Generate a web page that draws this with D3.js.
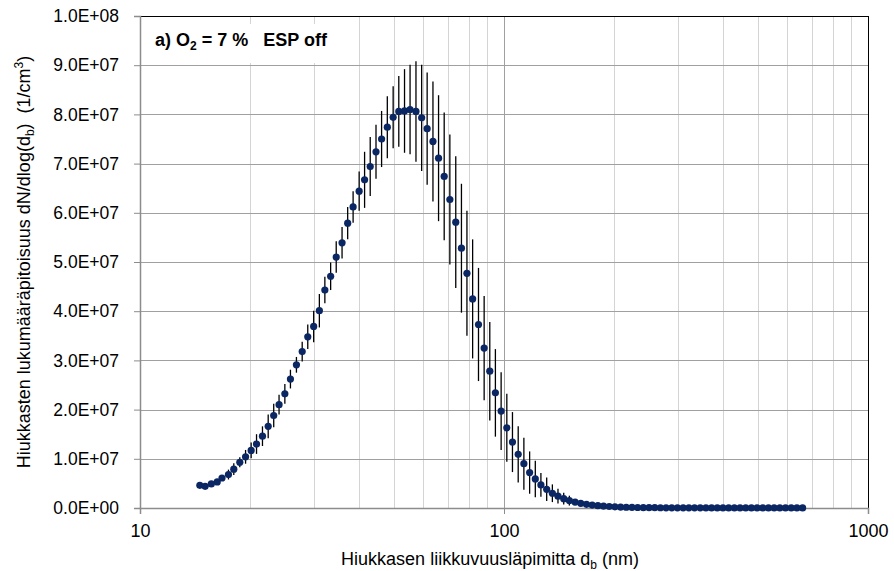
<!DOCTYPE html>
<html><head><meta charset="utf-8">
<script src="https://cdn.jsdelivr.net/npm/d3@7"></script>
<style>
body{margin:0;background:#fff}
svg text{font-family:"Liberation Sans",Arial,sans-serif;fill:#000}
</style>
</head><body>
<svg id="chart" width="894" height="571"></svg>
<script>
// ---- data ----
const diameters = [14.6,15.1,15.7,16.3,16.8,17.5,18.1,18.8,19.5,20.2,20.9,21.7,22.5,23.3,24.1,25.0,25.9,26.9,27.9,28.9,
30.0,31.1,32.2,33.4,34.6,35.9,37.2,38.5,40.0,41.4,42.9,44.5,46.1,47.8,49.6,51.4,53.3,55.2,57.3,59.4,
61.5,63.8,66.1,68.5,71.0,73.7,76.4,79.1,82.0,85.1,88.2,91.4,94.7,98.2,101.8,105.5,109.4,113.4,117.6,121.9,
126.3,131.0,135.8,140.7,145.9,151.2,156.8,162.5,168.5,174.7,181.1,187.7,194.6,201.7,209.1,216.7,224.7,232.9,241.4,250.3,
259.5,269.0,278.8,289.0,299.6,310.6,322.0,333.8,346.0,358.7,371.8,385.4,399.5,414.2,429.4,445.1,461.4,478.3,495.8,514.0,
532.8,552.3,572.5,593.5,615.3,637.8,661.2];

const concentration = [4.6e6,4.4e6,4.9e6,5.3e6,6.1e6,6.8e6,7.9e6,9.3e6,10.4e6,11.7e6,
13.0e6,14.6e6,16.6e6,18.8e6,21.0e6,23.2e6,26.2e6,29.1e6,31.8e6,34.8e6,
36.9e6,40.1e6,44.3e6,47.1e6,51.0e6,53.9e6,57.9e6,61.2e6,64.4e6,66.7e6,
69.4e6,72.4e6,75.0e6,77.4e6,79.4e6,80.6e6,80.7e6,81.0e6,80.6e6,79.3e6,
77.1e6,74.5e6,71.1e6,67.4e6,62.7e6,58.1e6,52.8e6,47.7e6,42.5e6,37.3e6,
32.5e6,27.8e6,23.4e6,19.7e6,16.3e6,13.4e6,10.9e6,9.0e6,7.2e6,5.9e6,
4.7e6,3.8e6,3.0e6,2.4e6,1.9e6,1.5e6,1.2e6,0.95e6,0.75e6,0.6e6,
0.48e6,0.38e6,0.30e6,0.24e6,0.19e6,0.15e6,0.12e6,0.10e6,0.08e6,0.07e6,
0.06e6,0.05e6,0.045e6,0.04e6,0.035e6,0.03e6,0.028e6,0.025e6,0.022e6,0.02e6,
0.018e6,0.016e6,0.015e6,0.014e6,0.013e6,0.012e6,0.011e6,0.010e6,0.010e6,0.009e6,
0.009e6,0.008e6,0.008e6,0.007e6,0.007e6,0.006e6,0.006e6];

const errorHalf = [0.2e6,0.2e6,0.3e6,0.4e6,0.6e6,1.0e6,1.2e6,1.0e6,1.4e6,1.6e6,
2.0e6,2.0e6,2.4e6,2.4e6,2.0e6,2.0e6,1.9e6,1.6e6,2.0e6,2.5e6,
3.2e6,3.4e6,2.7e6,2.8e6,3.2e6,3.2e6,3.3e6,3.2e6,4.0e6,5.7e6,
6.0e6,5.5e6,5.7e6,6.3e6,6.3e6,7.2e6,8.5e6,9.1e6,10.2e6,10.8e6,
11.4e6,12.2e6,12.8e6,13.0e6,13.2e6,13.4e6,13.1e6,12.7e6,12.1e6,11.5e6,
10.6e6,10.0e6,8.9e6,7.9e6,6.9e6,6.1e6,5.7e6,5.3e6,4.3e6,3.7e6,
2.4e6,2.4e6,1.8e6,1.5e6,1.2e6,1.0e6,0.6e6,0.5e6,0.4e6,0.3e6,
0.2e6,0.15e6,0.12e6,0.1e6,0.08e6,0.06e6,0.05e6,0.04e6,0.03e6,0.03e6,
0.02e6,0.02e6,0.02e6,0.01e6,0.01e6,0.01e6,0.01e6,0.01e6,0.01e6,0.01e6,
0,0,0,0,0,0,0,0,0,0,0,0,0,0,0,0,0];

const xTickValues = [10, 100, 1000];
const xMinorGrid = [20,30,40,50,60,70,80,90,200,300,400,500,600,700,800,900];
const yTickValues = [0,1e7,2e7,3e7,4e7,5e7,6e7,7e7,8e7,9e7,1e8];

// ---- chart ----
const svg = d3.select("#chart");
const L = 140, R = 868, T = 16, B = 508;
const x = d3.scaleLog().domain([10, 1000]).range([L, R]);
const y = d3.scaleLinear().domain([0, 1e8]).range([B, T]);
const crisp = v => Math.round(v) + 0.5;

function fmtE(v){
  if (v === 0) return "0.0E+00";
  const e = Math.floor(Math.log10(v) + 1e-9);
  const m = v / Math.pow(10, e);
  return m.toFixed(1) + "E+" + String(e).padStart(2, "0");
}

// minor vertical gridlines
svg.append("g").selectAll("line").data(xMinorGrid).join("line")
  .attr("x1", d => crisp(x(d))).attr("x2", d => crisp(x(d)))
  .attr("y1", T).attr("y2", B)
  .attr("stroke", "#d4d4d4").attr("stroke-width", 1);

// major vertical gridline(s)
svg.append("g").selectAll("line").data(xTickValues.filter(d => d > 10 && d < 1000)).join("line")
  .attr("x1", d => crisp(x(d))).attr("x2", d => crisp(x(d)))
  .attr("y1", T).attr("y2", B)
  .attr("stroke", "#a0a0a0").attr("stroke-width", 1);

// horizontal gridlines
svg.append("g").selectAll("line").data(yTickValues.filter(d => d > 0 && d < 1e8)).join("line")
  .attr("x1", L).attr("x2", R)
  .attr("y1", d => crisp(y(d))).attr("y2", d => crisp(y(d)))
  .attr("stroke", "#a0a0a0").attr("stroke-width", 1);

// title box (white, covers gridlines)
svg.append("rect").attr("x", L + 1).attr("y", 24).attr("width", 210).attr("height", 39).attr("fill", "#fff");

// top and right borders
svg.append("line").attr("x1", L).attr("x2", R + 0.5).attr("y1", crisp(T)).attr("y2", crisp(T)).attr("stroke", "#000");
svg.append("line").attr("x1", crisp(R)).attr("x2", crisp(R)).attr("y1", T).attr("y2", B).attr("stroke", "#000");

// axes
const yAxis = d3.axisLeft(y).tickValues(yTickValues).tickFormat(fmtE).tickSize(6).tickPadding(15);
const gy = svg.append("g").attr("transform", `translate(${L},0)`).call(yAxis);
gy.select(".domain").attr("stroke", "#8c8c8c").attr("stroke-width", 1.5);
gy.selectAll(".tick line").attr("stroke", "#8c8c8c");
gy.selectAll(".tick text").attr("font-size", 17.5).attr("font-family", "Liberation Sans, Arial, sans-serif").attr("fill", "#000");

const xAxis = d3.axisBottom(x).tickValues(xTickValues).tickFormat(d3.format("d")).tickSize(6).tickPadding(10);
const gx = svg.append("g").attr("transform", `translate(0,${B})`).call(xAxis);
gx.select(".domain").attr("stroke", "#8c8c8c").attr("stroke-width", 1.5);
gx.selectAll(".tick line").attr("stroke", "#8c8c8c");
gx.selectAll(".tick text").attr("font-size", 18).attr("font-family", "Liberation Sans, Arial, sans-serif").attr("fill", "#000");

// data
const pts = diameters.map((d, i) => ({d, v: concentration[i], e: errorHalf[i]}));
svg.append("g").selectAll("line").data(pts.filter(p => p.e > 0)).join("line")
  .attr("x1", p => x(p.d)).attr("x2", p => x(p.d))
  .attr("y1", p => y(p.v + p.e)).attr("y2", p => y(Math.max(0, p.v - p.e)))
  .attr("stroke", "#000").attr("stroke-width", 1.3);
svg.append("g").selectAll("circle").data(pts).join("circle")
  .attr("cx", p => x(p.d)).attr("cy", p => y(p.v)).attr("r", 3.6)
  .attr("fill", "#0a2663");

// title
const title = svg.append("text").attr("x", 155).attr("y", 46)
  .attr("font-size", 18).attr("font-weight", "bold");
title.append("tspan").text("a) O");
title.append("tspan").attr("font-size", 12).attr("dy", 4).text("2");
title.append("tspan").attr("dy", -4).attr("xml:space", "preserve").text(" = 7 %\u00a0\u00a0 ESP off");

// x label
const xl = svg.append("text").attr("x", 490).attr("y", 565).attr("text-anchor", "middle").attr("font-size", 18);
xl.append("tspan").text("Hiukkasen liikkuvuusläpimitta d");
xl.append("tspan").attr("font-size", 12).attr("dy", 4).text("b");
xl.append("tspan").attr("dy", -4).text(" (nm)");

// y label
const yl = svg.append("text").attr("transform", `translate(30,${(T + B) / 2}) rotate(-90)`)
  .attr("text-anchor", "middle").attr("font-size", 18);
yl.append("tspan").text("Hiukkasten lukumääräpitoisuus dN/dlog(d");
yl.append("tspan").attr("font-size", 12).attr("dy", 4).text("b");
yl.append("tspan").attr("dy", -4).text(")\u00a0\u00a0(1/cm");
yl.append("tspan").attr("font-size", 12).attr("dy", -7).text("3");
yl.append("tspan").attr("dy", 7).text(")");
</script>
</body></html>
